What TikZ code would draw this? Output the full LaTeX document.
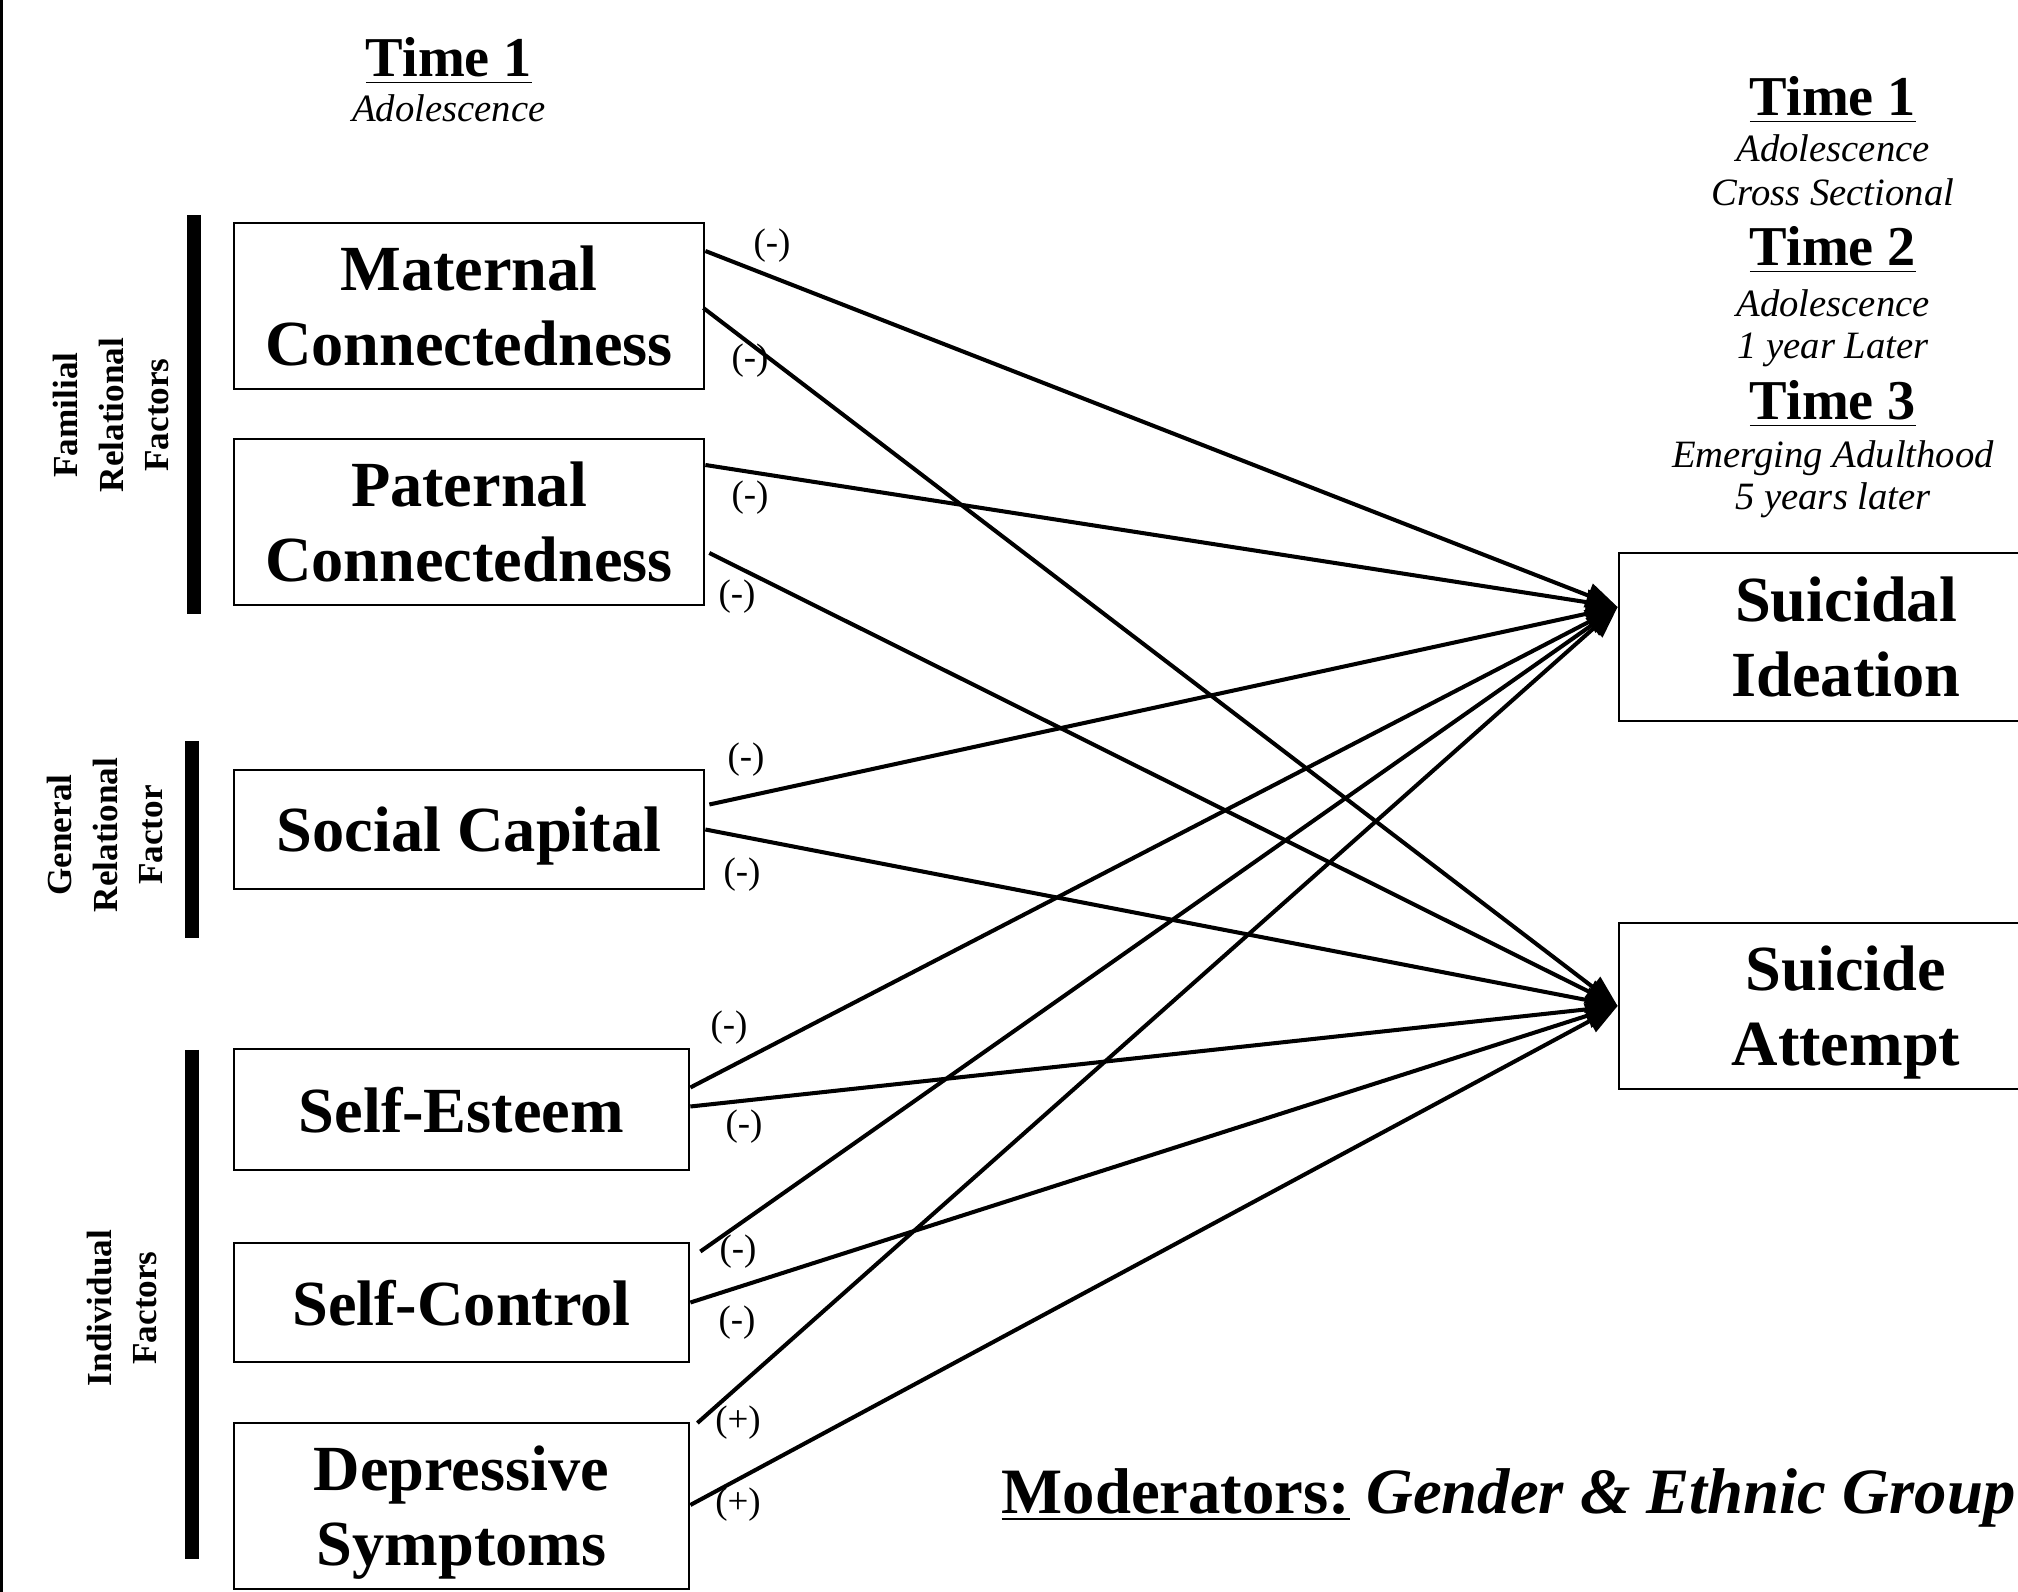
\documentclass[tikz,border=0pt]{standalone}
\usepackage{fontspec}
\setmainfont{Liberation Serif}
\usetikzlibrary{positioning}
\usetikzlibrary{arrows.meta}
\usetikzlibrary{calc}
\tikzstyle{factor}=[draw,line width=0.7pt,align=center,inner sep=0pt,text depth=0pt,font=\fontsize{18.3}{21.3}\selectfont\bfseries]
\tikzstyle{link} = [draw,line width=1.15pt,-{Triangle[length=9pt,width=7pt]}]
\tikzstyle{sign} = [font=\fontsize{10.5}{12}\selectfont,inner sep=0pt]
\tikzstyle{group} = [font=\fontsize{10}{13}\selectfont\bfseries,align=center,rotate=90,inner sep=0pt]
\tikzstyle{groupbar} = [line width=14pt*0.2845]
\tikzstyle{timehead} = [font=\fontsize{16}{19}\selectfont\bfseries,anchor=base]
\tikzstyle{timenote} = [font=\fontsize{11}{13}\selectfont\itshape,anchor=base]

\begin{document}
\begin{tikzpicture}[x=0.01cm,y=-0.01cm]
    \useasboundingbox (0,0) rectangle (2018,1592);
    \clip (0,0) rectangle (2018,1592);
    \fill[black] (0,0) rectangle (3,1592);

    % time headers
    \node[timehead] (t1left) at (449,77) {\underline{Time 1}};
    \node[timenote] (adolleft) at (449,122) {Adolescence};

    \foreach \y/\name/\txt in {116/t1/Time 1, 266/t2/Time 2, 420/t3/Time 3}
        \node[timehead] (\name) at (1833,\y) {\underline{\txt}};
    \foreach \y/\name/\txt in {162/t1a/Adolescence, 206/t1b/Cross Sectional, 317/t2a/Adolescence, 359/t2b/1 year Later, 468/t3a/Emerging Adulthood, 510/t3b/5 years later}
        \node[timenote] (\name) at (1833,\y) {\txt};

    % predictors and outcomes
    \foreach \pos/\name/\boxw/\boxh/\txt in {{(469,306)/mat/4.70/1.66/Maternal\\Connectedness}, {(469,522)/pat/4.70/1.66/Paternal\\Connectedness}, {(469,829.5)/soc/4.70/1.19/Social Capital}, {(461.5,1109.5)/se/4.55/1.21/Self-Esteem}, {(461.5,1302.5)/sc/4.55/1.19/Self-Control}, {(461.5,1506)/dep/4.55/1.66/Depressive\\Symptoms}, {(1846,637)/si/4.54/1.68/Suicidal\\Ideation}, {(1846,1006)/sa/4.54/1.66/Suicide\\Attempt}}
        \node[factor,minimum width=\boxw cm,minimum height=\boxh cm] (\name) at \pos {\txt};

    % groups of factors
    \draw[groupbar] (194,215) -- (194,614);
    \draw[groupbar] (192,741) -- (192,938);
    \draw[groupbar] (192,1050) -- (192,1559);
    \node[group] (familial) at (111,415) {Familial\\Relational\\Factors};
    \node[group] (general) at (105,835) {General\\Relational\\Factor};
    \node[group] (individual) at (122,1308) {Individual\\Factors};

    % paths
    \foreach \source/\sx/\sy/\dest/\dy/\lpos/\sign [count=\i] in {{mat/0/-55/si/-30/(772,246)/(-)}, {mat/-2/2/sa/0/(750,361)/(-)}, {pat/0/-57/si/-30/(750,498)/(-)}, {pat/4/31/sa/0/(737,597)/(-)}, {soc/4/-25/si/-30/(746,760)/(-)}, {soc/0/0/sa/0/(742,875)/(-)}, {se/0/-22/si/-30/(729,1028)/(-)}, {se/0/-3/sa/0/(744,1127)/(-)}, {sc/10/-51/si/-30/(738,1252)/(-)}, {sc/0/0/sa/0/(737,1323)/(-)}, {dep/7/-83/si/-30/(738,1423)/(+)}, {dep/0/-1/sa/0/(738,1505)/(+)}}
    {
        \path[link] ($(\source.east)+(\sx,\sy)$) -- ($(\dest.west)+(0,\dy)$);
        \node[sign] (s\i) at \lpos {\sign};
    }

    \node[anchor=base west,inner sep=0pt,font=\fontsize{18.4}{21}\selectfont\bfseries] (moderators) at (1001,1513) {\underline{Moderators:} \textit{Gender \& Ethnic Group}};
\end{tikzpicture}
\end{document}
